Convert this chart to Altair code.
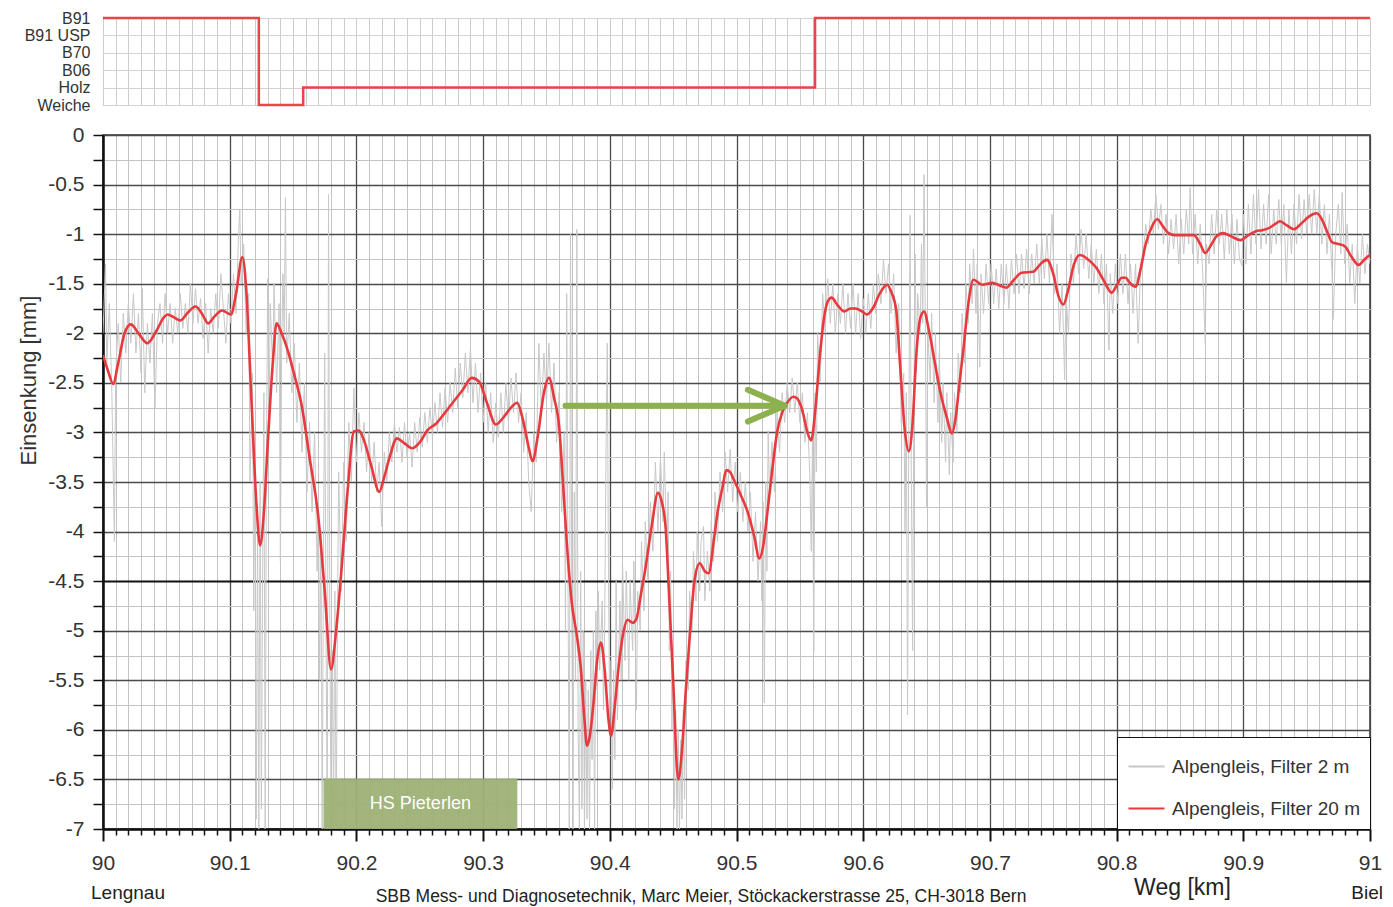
import altair as alt
import pandas as pd

FONT = "Liberation Sans"

# --- Oberbau along the section (top strip) ---
TYPE_ORDER = ["B91", "B91 USP", "B70", "B06", "Holz", "Weiche"]
TYPE_KM = [90.000, 90.123, 90.158, 90.562, 91.000]
TYPE_VAL = ["B91", "Weiche", "Holz", "B91", "B91"]

# --- Einsenkung, 20 m filter (km, mm) ---
RED_20M = [
    (90.000, -2.22), (90.004, -2.38), (90.008, -2.51), (90.012, -2.30), (90.017, -2.00),
    (90.022, -1.91), (90.028, -2.00), (90.035, -2.10), (90.042, -1.98), (90.048, -1.84),
    (90.051, -1.81), (90.056, -1.84), (90.061, -1.87), (90.067, -1.79), (90.073, -1.73),
    (90.078, -1.80), (90.083, -1.90), (90.088, -1.83), (90.094, -1.77), (90.101, -1.81),
    (90.105, -1.60), (90.110, -1.23), (90.113, -1.55), (90.117, -2.63), (90.121, -3.70),
    (90.124, -4.14), (90.127, -3.80), (90.130, -3.12), (90.134, -2.30), (90.137, -1.90),
    (90.141, -2.00), (90.146, -2.18), (90.151, -2.42), (90.157, -2.74), (90.163, -3.25),
    (90.170, -3.86), (90.175, -4.60), (90.180, -5.39), (90.184, -5.00), (90.188, -4.42),
    (90.193, -3.60), (90.198, -2.99), (90.202, -2.98), (90.206, -3.08), (90.212, -3.35),
    (90.218, -3.60), (90.222, -3.45), (90.226, -3.26), (90.232, -3.06), (90.237, -3.10),
    (90.244, -3.16), (90.250, -3.10), (90.256, -2.98), (90.263, -2.91), (90.270, -2.80),
    (90.276, -2.70), (90.284, -2.57), (90.291, -2.45), (90.297, -2.49), (90.303, -2.70),
    (90.310, -2.92), (90.316, -2.85), (90.322, -2.75), (90.327, -2.70), (90.331, -2.85),
    (90.336, -3.15), (90.339, -3.29), (90.343, -3.05), (90.348, -2.60), (90.352, -2.45),
    (90.356, -2.65), (90.360, -2.94), (90.363, -3.50), (90.366, -4.10), (90.370, -4.72),
    (90.374, -5.05), (90.377, -5.36), (90.380, -5.90), (90.382, -6.16), (90.384, -6.08),
    (90.387, -5.75), (90.390, -5.30), (90.393, -5.12), (90.396, -5.40), (90.399, -5.90),
    (90.401, -6.06), (90.404, -5.75), (90.407, -5.36), (90.411, -5.00), (90.414, -4.89),
    (90.418, -4.92), (90.421, -4.88), (90.425, -4.60), (90.428, -4.38), (90.433, -3.95),
    (90.438, -3.61), (90.441, -3.70), (90.444, -3.95), (90.447, -4.70), (90.450, -5.50),
    (90.454, -6.50), (90.457, -6.20), (90.460, -5.60), (90.464, -4.90), (90.467, -4.48),
    (90.471, -4.32), (90.475, -4.40), (90.478, -4.42), (90.482, -4.10), (90.485, -3.81),
    (90.489, -3.55), (90.492, -3.38), (90.495, -3.40), (90.498, -3.48), (90.503, -3.62),
    (90.509, -3.81), (90.514, -4.05), (90.518, -4.27), (90.521, -4.15), (90.524, -3.85),
    (90.528, -3.40), (90.532, -3.00), (90.536, -2.80), (90.540, -2.70), (90.545, -2.64),
    (90.548, -2.66), (90.552, -2.78), (90.556, -3.00), (90.559, -3.08), (90.562, -2.80),
    (90.566, -2.20), (90.569, -1.85), (90.572, -1.68), (90.575, -1.64), (90.580, -1.72),
    (90.585, -1.78), (90.590, -1.75), (90.594, -1.75), (90.599, -1.78), (90.603, -1.81),
    (90.608, -1.74), (90.613, -1.60), (90.619, -1.51), (90.622, -1.58), (90.626, -1.76),
    (90.629, -2.30), (90.633, -3.00), (90.636, -3.19), (90.639, -2.90), (90.642, -2.20),
    (90.645, -1.85), (90.648, -1.78), (90.652, -1.98), (90.657, -2.33), (90.661, -2.60),
    (90.666, -2.85), (90.670, -3.01), (90.673, -2.85), (90.676, -2.50), (90.679, -2.17),
    (90.683, -1.70), (90.687, -1.46), (90.694, -1.51), (90.702, -1.49), (90.708, -1.52),
    (90.713, -1.54), (90.719, -1.46), (90.725, -1.39), (90.734, -1.38), (90.740, -1.30),
    (90.745, -1.26), (90.750, -1.40), (90.754, -1.62), (90.758, -1.71), (90.762, -1.55),
    (90.766, -1.32), (90.771, -1.21), (90.777, -1.25), (90.784, -1.34), (90.790, -1.47),
    (90.796, -1.59), (90.800, -1.52), (90.804, -1.44), (90.807, -1.44), (90.811, -1.50),
    (90.815, -1.53), (90.819, -1.35), (90.823, -1.10), (90.828, -0.92), (90.832, -0.85),
    (90.837, -0.93), (90.841, -0.99), (90.846, -1.01), (90.853, -1.01), (90.861, -1.01),
    (90.866, -1.10), (90.870, -1.19), (90.875, -1.10), (90.879, -1.02), (90.884, -0.99),
    (90.890, -1.02), (90.898, -1.06), (90.904, -1.01), (90.910, -0.97), (90.915, -0.96),
    (90.920, -0.94), (90.925, -0.90), (90.929, -0.87), (90.934, -0.91), (90.940, -0.95),
    (90.946, -0.89), (90.952, -0.82), (90.958, -0.79), (90.962, -0.85), (90.966, -0.97),
    (90.970, -1.08), (90.975, -1.10), (90.980, -1.12), (90.985, -1.22), (90.991, -1.31),
    (90.996, -1.25), (91.000, -1.21),
]

# --- Einsenkung, 2 m filter (km, mm) ---
GRAY_2M = [
    (90.000, -2.00), (90.002, -1.30), (90.003, -2.30), (90.005, -1.70), (90.007, -2.60),
    (90.009, -4.10), (90.010, -2.40), (90.012, -1.90), (90.014, -2.50), (90.016, -1.80),
    (90.018, -2.20), (90.020, -1.70), (90.022, -2.10), (90.024, -1.60), (90.026, -2.20),
    (90.028, -1.80), (90.030, -2.40), (90.031, -1.55), (90.033, -2.60), (90.035, -1.90),
    (90.037, -2.30), (90.039, -1.80), (90.041, -2.75), (90.043, -1.90), (90.045, -1.70),
    (90.047, -2.10), (90.049, -1.60), (90.051, -2.00), (90.053, -1.70), (90.055, -2.10),
    (90.057, -1.75), (90.059, -2.00), (90.061, -1.60), (90.063, -1.95), (90.065, -1.70),
    (90.067, -2.00), (90.069, -1.50), (90.071, -1.90), (90.073, -1.55), (90.075, -1.90),
    (90.077, -1.65), (90.079, -2.05), (90.081, -1.70), (90.083, -2.20), (90.085, -1.75),
    (90.087, -2.00), (90.089, -1.60), (90.091, -1.95), (90.093, -1.40), (90.095, -1.75),
    (90.097, -2.10), (90.099, -1.60), (90.101, -1.90), (90.103, -1.40), (90.105, -1.80),
    (90.107, -1.00), (90.108, -0.75), (90.109, -1.50), (90.111, -1.10), (90.113, -2.00),
    (90.115, -1.60), (90.116, -3.50), (90.118, -2.40), (90.119, -4.80), (90.120, -3.00),
    (90.121, -6.90), (90.122, -4.00), (90.123, -7.00), (90.124, -3.50), (90.125, -6.80),
    (90.126, -4.40), (90.127, -2.60), (90.128, -7.00), (90.129, -3.20), (90.130, -1.45),
    (90.131, -2.90), (90.132, -1.70), (90.134, -2.40), (90.135, -1.50), (90.137, -2.60),
    (90.139, -1.70), (90.140, -4.30), (90.141, -2.20), (90.142, -1.40), (90.143, -2.00),
    (90.144, -0.63), (90.145, -2.30), (90.147, -1.80), (90.149, -2.60), (90.151, -2.10),
    (90.153, -2.90), (90.155, -2.30), (90.157, -3.20), (90.159, -2.50), (90.161, -3.60),
    (90.163, -2.90), (90.165, -3.80), (90.167, -3.00), (90.169, -4.40), (90.170, -3.70),
    (90.171, -5.50), (90.172, -4.00), (90.173, -7.00), (90.174, -4.30), (90.175, -2.20),
    (90.176, -5.00), (90.177, -7.00), (90.178, -0.60), (90.179, -4.80), (90.180, -7.00),
    (90.181, -5.20), (90.182, -6.90), (90.183, -4.60), (90.184, -7.00), (90.185, -5.00),
    (90.186, -3.40), (90.188, -4.60), (90.190, -3.30), (90.192, -4.10), (90.194, -2.90),
    (90.196, -3.50), (90.198, -2.55), (90.200, -3.30), (90.202, -2.80), (90.204, -3.20),
    (90.206, -2.90), (90.208, -3.40), (90.210, -3.00), (90.212, -3.50), (90.214, -3.10),
    (90.216, -3.60), (90.218, -3.30), (90.220, -3.95), (90.222, -3.20), (90.224, -3.50),
    (90.226, -3.00), (90.228, -3.30), (90.230, -2.90), (90.232, -3.20), (90.234, -2.95),
    (90.236, -3.30), (90.238, -2.90), (90.240, -3.25), (90.242, -3.00), (90.244, -3.35),
    (90.246, -2.90), (90.248, -3.20), (90.250, -2.85), (90.252, -3.15), (90.254, -2.80),
    (90.256, -3.10), (90.258, -2.75), (90.260, -3.05), (90.262, -2.70), (90.264, -3.00),
    (90.266, -2.60), (90.268, -2.95), (90.270, -2.55), (90.272, -2.90), (90.274, -2.50),
    (90.276, -2.80), (90.278, -2.35), (90.280, -2.75), (90.282, -2.30), (90.284, -2.65),
    (90.286, -2.20), (90.288, -2.60), (90.290, -2.15), (90.292, -2.70), (90.294, -2.30),
    (90.296, -2.80), (90.298, -2.40), (90.300, -2.90), (90.302, -2.50), (90.304, -3.00),
    (90.306, -2.60), (90.308, -3.10), (90.310, -2.70), (90.312, -3.05), (90.314, -2.60),
    (90.316, -3.00), (90.318, -2.50), (90.320, -2.90), (90.322, -2.45), (90.324, -2.80),
    (90.326, -2.40), (90.328, -2.90), (90.330, -2.60), (90.332, -3.20), (90.334, -2.80),
    (90.336, -3.50), (90.338, -3.80), (90.340, -3.00), (90.342, -3.30), (90.344, -2.10),
    (90.346, -2.80), (90.348, -2.20), (90.350, -2.70), (90.352, -2.10), (90.354, -2.80),
    (90.356, -2.30), (90.358, -3.10), (90.360, -2.60), (90.362, -3.80), (90.364, -3.00),
    (90.365, -5.00), (90.366, -1.60), (90.367, -4.50), (90.368, -7.00), (90.369, -1.00),
    (90.370, -4.80), (90.371, -7.00), (90.372, -3.60), (90.373, -5.50), (90.374, -0.95),
    (90.375, -6.00), (90.376, -7.00), (90.377, -4.40), (90.378, -6.80), (90.379, -5.00),
    (90.380, -7.00), (90.381, -5.50), (90.382, -6.90), (90.383, -5.60), (90.384, -7.00),
    (90.385, -5.20), (90.386, -6.30), (90.387, -5.00), (90.388, -7.00), (90.389, -4.80),
    (90.390, -5.60), (90.391, -4.60), (90.392, -5.40), (90.394, -4.70), (90.395, -5.80),
    (90.396, -4.90), (90.397, -3.20), (90.398, -2.10), (90.399, -4.50), (90.400, -6.00),
    (90.401, -5.30), (90.402, -6.60), (90.403, -5.40), (90.404, -6.30), (90.405, -4.50),
    (90.406, -5.90), (90.408, -4.70), (90.409, -5.50), (90.410, -4.30), (90.412, -5.30),
    (90.413, -4.40), (90.415, -5.50), (90.416, -4.50), (90.418, -5.20), (90.419, -4.30),
    (90.421, -5.80), (90.422, -4.60), (90.424, -5.00), (90.425, -4.10), (90.427, -4.80),
    (90.428, -3.90), (90.430, -4.50), (90.432, -3.70), (90.434, -4.20), (90.436, -3.30),
    (90.438, -4.00), (90.440, -3.25), (90.442, -3.90), (90.443, -3.20), (90.445, -4.20),
    (90.446, -3.60), (90.447, -5.20), (90.448, -4.40), (90.449, -6.00), (90.450, -5.20),
    (90.451, -6.80), (90.452, -5.80), (90.453, -7.00), (90.454, -6.00), (90.455, -7.00),
    (90.456, -6.10), (90.457, -6.90), (90.458, -5.80), (90.459, -6.70), (90.460, -5.30),
    (90.462, -5.60), (90.463, -4.60), (90.465, -5.00), (90.466, -4.20), (90.468, -4.70),
    (90.469, -4.00), (90.471, -4.60), (90.472, -4.10), (90.474, -3.95), (90.475, -4.70),
    (90.477, -4.20), (90.479, -4.60), (90.480, -3.90), (90.482, -4.30), (90.483, -3.60),
    (90.485, -4.10), (90.487, -3.40), (90.489, -3.80), (90.491, -3.20), (90.493, -3.60),
    (90.495, -3.17), (90.497, -3.70), (90.499, -3.30), (90.501, -3.80), (90.503, -3.40),
    (90.505, -3.90), (90.507, -3.50), (90.509, -4.00), (90.511, -3.60), (90.513, -4.30),
    (90.515, -3.80), (90.517, -4.50), (90.519, -3.90), (90.520, -4.70), (90.521, -3.70),
    (90.522, -5.73), (90.523, -3.50), (90.524, -4.40), (90.525, -2.98), (90.526, -3.60),
    (90.528, -3.10), (90.530, -3.60), (90.532, -2.80), (90.534, -3.20), (90.536, -2.60),
    (90.538, -2.90), (90.540, -2.50), (90.542, -2.80), (90.544, -2.45), (90.546, -2.80),
    (90.548, -2.50), (90.550, -2.90), (90.552, -2.60), (90.554, -3.10), (90.556, -2.80),
    (90.558, -3.50), (90.559, -4.20), (90.560, -3.00), (90.561, -5.22), (90.562, -2.60),
    (90.563, -3.40), (90.564, -2.00), (90.566, -2.50), (90.568, -1.60), (90.570, -2.00),
    (90.572, -1.45), (90.574, -1.90), (90.576, -1.50), (90.578, -2.00), (90.580, -1.60),
    (90.582, -1.90), (90.584, -1.50), (90.586, -2.00), (90.588, -1.60), (90.590, -1.95),
    (90.592, -1.50), (90.594, -2.00), (90.596, -1.60), (90.598, -2.05), (90.600, -1.65),
    (90.602, -2.00), (90.604, -1.60), (90.606, -1.95), (90.608, -1.50), (90.610, -1.80),
    (90.612, -1.40), (90.614, -1.70), (90.616, -1.26), (90.618, -1.60), (90.620, -1.30),
    (90.622, -1.80), (90.624, -1.40), (90.626, -2.20), (90.628, -1.70), (90.630, -2.90),
    (90.632, -2.40), (90.633, -4.00), (90.634, -2.60), (90.635, -5.85), (90.636, -3.00),
    (90.637, -0.81), (90.638, -3.50), (90.639, -5.20), (90.640, -2.60), (90.641, -1.20),
    (90.642, -2.40), (90.643, -1.60), (90.645, -2.00), (90.646, -1.10), (90.647, -1.90),
    (90.648, -0.40), (90.649, -1.80), (90.650, -3.76), (90.651, -2.00), (90.653, -2.50),
    (90.654, -1.80), (90.656, -2.70), (90.657, -2.00), (90.659, -2.90), (90.660, -2.20),
    (90.662, -3.10), (90.663, -2.50), (90.665, -3.30), (90.666, -2.60), (90.668, -3.43),
    (90.669, -2.80), (90.671, -3.30), (90.672, -2.60), (90.674, -3.00), (90.675, -2.20),
    (90.677, -2.60), (90.678, -1.80), (90.680, -2.30), (90.681, -1.50), (90.683, -1.90),
    (90.684, -1.30), (90.686, -1.70), (90.687, -1.15), (90.689, -1.80), (90.690, -1.30),
    (90.692, -2.34), (90.693, -1.40), (90.695, -1.80), (90.697, -1.30), (90.699, -1.70),
    (90.701, -1.30), (90.703, -1.70), (90.705, -1.35), (90.707, -1.75), (90.709, -1.30),
    (90.711, -1.70), (90.713, -1.30), (90.715, -1.75), (90.717, -1.25), (90.719, -1.60),
    (90.721, -1.20), (90.723, -1.60), (90.725, -1.20), (90.727, -1.55), (90.729, -1.15),
    (90.731, -1.60), (90.733, -1.20), (90.735, -1.50), (90.737, -1.10), (90.739, -1.50),
    (90.741, -1.05), (90.743, -1.45), (90.745, -1.00), (90.747, -1.50), (90.749, -0.80),
    (90.751, -1.60), (90.753, -1.30), (90.755, -2.00), (90.757, -1.50), (90.759, -2.47),
    (90.760, -1.60), (90.762, -2.00), (90.764, -1.20), (90.766, -1.50), (90.768, -1.00),
    (90.770, -1.40), (90.772, -0.95), (90.774, -1.35), (90.776, -1.00), (90.778, -1.45),
    (90.780, -1.10), (90.782, -1.50), (90.784, -1.15), (90.786, -1.60), (90.788, -1.20),
    (90.790, -1.70), (90.792, -1.30), (90.794, -2.17), (90.795, -1.40), (90.797, -1.80),
    (90.799, -1.30), (90.801, -1.70), (90.803, -1.20), (90.805, -1.60), (90.807, -1.20),
    (90.809, -1.70), (90.811, -1.30), (90.813, -1.80), (90.815, -1.30), (90.817, -2.10),
    (90.819, -1.30), (90.821, -1.20), (90.823, -0.90), (90.825, -1.10), (90.827, -0.75),
    (90.829, -1.00), (90.831, -0.60), (90.833, -0.95), (90.835, -0.70), (90.837, -1.10),
    (90.839, -0.80), (90.841, -1.20), (90.843, -0.85), (90.845, -1.15), (90.847, -0.80),
    (90.849, -1.30), (90.851, -0.85), (90.853, -1.20), (90.855, -0.75), (90.857, -1.10),
    (90.858, -0.53), (90.860, -1.20), (90.862, -0.80), (90.864, -1.30), (90.866, -0.90),
    (90.868, -1.40), (90.870, -2.10), (90.871, -1.10), (90.873, -1.30), (90.875, -0.80),
    (90.877, -1.20), (90.879, -0.75), (90.881, -1.10), (90.883, -0.80), (90.885, -1.25),
    (90.887, -0.75), (90.889, -1.20), (90.891, -0.80), (90.893, -1.30), (90.895, -0.85),
    (90.897, -1.25), (90.899, -1.32), (90.900, -0.80), (90.902, -1.30), (90.904, -0.70),
    (90.906, -1.20), (90.908, -0.60), (90.910, -1.10), (90.912, -0.55), (90.914, -1.15),
    (90.916, -0.70), (90.918, -1.10), (90.920, -0.60), (90.922, -1.20), (90.924, -0.75),
    (90.926, -1.10), (90.928, -0.65), (90.930, -1.10), (90.932, -0.70), (90.934, -1.49),
    (90.936, -0.75), (90.938, -1.20), (90.940, -0.70), (90.942, -1.10), (90.944, -0.60),
    (90.946, -1.05), (90.948, -0.65), (90.950, -1.00), (90.952, -0.60), (90.954, -1.00),
    (90.956, -0.55), (90.958, -1.00), (90.960, -0.60), (90.962, -1.10), (90.964, -0.70),
    (90.966, -1.20), (90.968, -0.80), (90.970, -1.40), (90.971, -1.86), (90.973, -1.00),
    (90.975, -0.70), (90.977, -1.20), (90.978, -0.58), (90.980, -1.30), (90.982, -0.90),
    (90.984, -1.50), (90.986, -1.10), (90.988, -1.70), (90.990, -1.10), (90.992, -1.50),
    (90.994, -1.00), (90.996, -1.40), (90.998, -1.10), (91.000, -1.30),
]

SERIES = ["Alpengleis, Filter 2 m", "Alpengleis, Filter 20 m"]
SERIES_COLORS = ["#c8c8c8", "#e63a3f"]

# Haltestelle box and marker arrow
HS_LABEL = "HS Pieterlen"
HS_KM = [90.174, 90.327]
HS_MM = [-6.49, -7.0]
ARROW_KM = [90.365, 90.538]
ARROW_MM = -2.73
ARROW_HEAD_KM = 90.509
ARROW_HEAD_MM = [-2.57, -2.89]

# Texts under the x axis
FOOT_LEFT = ("Lengnau", 90.0)
FOOT_RIGHT = ("Biel", 91.0)
FOOT_AXIS = ("Weg [km]", 90.852)
FOOT_CREDIT = ("SBB Mess- und Diagnosetechnik, Marc Meier, Stöckackerstrasse 25, CH-3018 Bern", 90.472)

PLOT_W, PLOT_H = 1267, 694
TOP_H = 87

X_TICKS = [round(90 + i * 0.01, 2) for i in range(101)]
Y_TICKS = [round(-7 + i * 0.25, 2) for i in range(29)]
X_MAJOR = "abs(datum.value*10 - round(datum.value*10)) < 1e-6"
Y_MAJOR = "abs(datum.value*2 - round(datum.value*2)) < 1e-6"
Y_BOLD = "abs(datum.value + 4.5) < 1e-6"

x_scale = alt.Scale(domain=[90, 91], nice=False, zero=False)
y_scale = alt.Scale(domain=[-7, 0], nice=False, zero=False)

x_axis = alt.Axis(
    values=X_TICKS,
    title=None,
    labelExpr=f"{X_MAJOR} ? toString(round(datum.value*10)/10) : ''",
    labelOverlap=False, labelFlush=False, labelBound=False,
    labelFont=FONT, labelFontSize=21, labelColor="#333", labelPadding=11,
    tickSize={"condition": {"test": X_MAJOR, "value": 12}, "value": 6},
    tickWidth={"condition": {"test": X_MAJOR, "value": 2}, "value": 1.5},
    tickColor="#111",
    domainColor="#111", domainWidth=2.5,
    grid=True,
    gridColor={"condition": {"test": X_MAJOR, "value": "#4a4a4a"}, "value": "#c4c4c4"},
    gridWidth={"condition": {"test": X_MAJOR, "value": 1.3}, "value": 1},
)
y_axis = alt.Axis(
    values=Y_TICKS,
    title="Einsenkung [mm]",
    titleFont=FONT, titleFontSize=22, titleFontWeight="normal", titleColor="#333", titlePadding=7,
    titleY=245,
    labelExpr=f"{Y_MAJOR} ? toString(datum.value) : ''",
    labelOverlap=False, labelFlush=False, labelBound=False,
    labelFont=FONT, labelFontSize=21, labelColor="#333", labelPadding=9,
    tickSize=10, tickWidth=1.5, tickColor="#111",
    domainColor="#111", domainWidth=2.5,
    grid=True,
    gridColor={"condition": [{"test": Y_BOLD, "value": "#111"},
                             {"test": Y_MAJOR, "value": "#4a4a4a"}], "value": "#c4c4c4"},
    gridWidth={"condition": [{"test": Y_BOLD, "value": 2},
                             {"test": Y_MAJOR, "value": 1.3}], "value": 1},
)

X = alt.X("km:Q", scale=x_scale, axis=x_axis)
Y = alt.Y("mm:Q", scale=y_scale, axis=y_axis)
COLOR = alt.Color(
    "serie:N",
    scale=alt.Scale(domain=SERIES, range=SERIES_COLORS),
    legend=alt.Legend(
        title=None, orient="bottom-right", offset=0, padding=10,
        fillColor="white", strokeColor="#111",
        symbolType="stroke", symbolSize=1300, symbolStrokeWidth=2,
        labelFont=FONT, labelFontSize=19, labelColor="#333", labelOffset=6,
        labelLimit=400, rowPadding=12,
    ),
)

gray_df = pd.DataFrame(GRAY_2M, columns=["km", "mm"]).assign(serie=SERIES[0])
red_df = pd.DataFrame(RED_20M, columns=["km", "mm"]).assign(serie=SERIES[1])

gray = alt.Chart(gray_df).mark_line(strokeWidth=1, clip=True).encode(X, Y, COLOR)
red = alt.Chart(red_df).mark_line(strokeWidth=2.6, interpolate="monotone", clip=True).encode(X, Y, COLOR)

hs_df = pd.DataFrame({"km": [HS_KM[0]], "km2": [HS_KM[1]], "mm": [HS_MM[0]], "mm2": [HS_MM[1]],
                      "kmc": [(HS_KM[0] + HS_KM[1]) / 2], "mmc": [(HS_MM[0] + HS_MM[1]) / 2],
                      "label": [HS_LABEL]})
hs_box = alt.Chart(hs_df).mark_rect(color="#9cb175", opacity=0.95).encode(X, alt.X2("km2"), Y, alt.Y2("mm2"))
hs_text = alt.Chart(hs_df).mark_text(color="white", font=FONT, fontSize=18).encode(
    alt.X("kmc:Q", scale=x_scale, axis=x_axis), alt.Y("mmc:Q", scale=y_scale, axis=y_axis), text="label:N")

arrow_df = pd.DataFrame({
    "km": [ARROW_KM[0], ARROW_HEAD_KM, ARROW_HEAD_KM],
    "mm": [ARROW_MM, ARROW_HEAD_MM[0], ARROW_HEAD_MM[1]],
    "km2": [ARROW_KM[1], ARROW_KM[1], ARROW_KM[1]],
    "mm2": [ARROW_MM, ARROW_MM, ARROW_MM],
})
arrow = alt.Chart(arrow_df).mark_rule(color="#8db14f", strokeWidth=6, strokeCap="round").encode(
    X, alt.X2("km2"), Y, alt.Y2("mm2"))


def foot(item, size, align, dx, dy, weight="normal"):
    df = pd.DataFrame({"label": [item[0]], "km": [item[1]]})
    return alt.Chart(df).mark_text(
        font=FONT, fontSize=size, align=align, dx=dx, baseline="middle", color="#222",
        fontWeight=weight,
    ).encode(X, y=alt.value(PLOT_H + dy), text="label:N")


footer = (
    foot(FOOT_LEFT, 19, "left", -12, 64)
    + foot(FOOT_RIGHT, 19, "right", 13, 64)
    + foot(FOOT_AXIS, 23, "center", 0, 59)
    + foot(FOOT_CREDIT, 17.5, "center", 0, 68)
)

main = alt.layer(gray, red, hs_box, hs_text, arrow, footer).properties(
    width=PLOT_W, height=PLOT_H,
    view=alt.ViewBackground(stroke="#333", strokeWidth=1.5),
)

# --- top strip: rail type ---
type_df = pd.DataFrame({"km": TYPE_KM, "typ": TYPE_VAL})
top = alt.Chart(type_df).mark_line(interpolate="step-after", color="#e8454a", strokeWidth=2.5).encode(
    x=alt.X("km:Q", scale=x_scale,
            axis=alt.Axis(values=X_TICKS, title=None, labels=False, ticks=False, domain=False,
                          grid=True, gridColor="#cdcdcd", gridWidth=1)),
    y=alt.Y("typ:N", scale=alt.Scale(domain=TYPE_ORDER, padding=0),
            axis=alt.Axis(title=None, labelFont=FONT, labelFontSize=16, labelColor="#333",
                          labelPadding=13, ticks=False, domain=False,
                          grid=True, gridColor="#d2d2d2", gridWidth=1)),
    order=alt.Order("km:Q", sort="ascending"),
).properties(width=PLOT_W, height=TOP_H, view=alt.ViewBackground(stroke="#bdbdbd", strokeWidth=1))

chart = alt.vconcat(top, main, spacing=9).resolve_legend(color="independent").properties(
    padding={"left": 17, "top": 9, "right": 5, "bottom": 0},
    background="white",
)

chart.save("out.html", embed_options={"renderer": "svg", "actions": False})
